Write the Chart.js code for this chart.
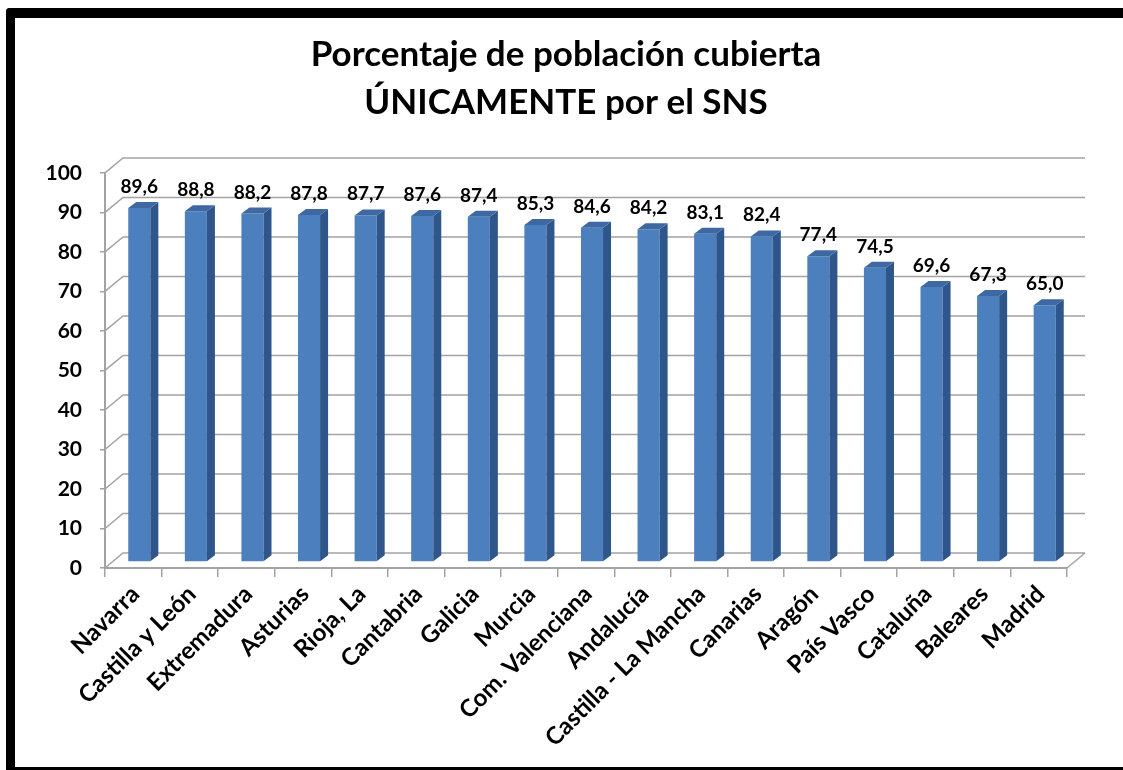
<!DOCTYPE html>
<html>
<head>
<meta charset="utf-8">
<script src="https://cdn.jsdelivr.net/npm/chart.js@4.4.1/dist/chart.umd.min.js"></script>
<style>
    html, body { margin: 0; background: #fff; overflow: hidden; }
    #wrap { position: relative; width: 1123px; height: 770px; overflow: hidden; }
    #frame {
        position: absolute; left: 6px; top: 8px;
        width: 1140px; height: 749px;
        border-top: 10px solid #000;
        border-bottom: 10px solid #000;
        border-left: 9px solid #000;
        border-right: none;
        border-top-left-radius: 4px;
        border-bottom-left-radius: 4px;
    }
    #chart { position: absolute; left: 0; top: 0; }
</style>
</head>
<body>
<div id="wrap">
    <div id="frame"></div>
    <canvas id="chart" width="1123" height="770"></canvas>
</div>
<script>
// Chart data
const titleLines = ['Porcentaje de población cubierta', 'ÚNICAMENTE por el SNS'];
const regions = [
    'Navarra', 'Castilla y León', 'Extremadura', 'Asturias', 'Rioja, La',
    'Cantabria', 'Galicia', 'Murcia', 'Com. Valenciana', 'Andalucía',
    'Castilla - La Mancha', 'Canarias', 'Aragón', 'País Vasco', 'Cataluña',
    'Baleares', 'Madrid'
];
const coverage = [89.6, 88.8, 88.2, 87.8, 87.7, 87.6, 87.4, 85.3, 84.6, 84.2, 83.1, 82.4, 77.4, 74.5, 69.6, 67.3, 65.0];
const yMin = 0;
const yMax = 100;
const yStep = 10;

// 3D look
const wallDepth = { x: 18, y: -15 };   // back wall offset from the front plane
const barShift = { x: 6, y: -6 };     // bars sit a little behind the front axis
const barDepth = { x: 8, y: -6 };     // visible side / top of each column
const gridColor = '#a3a3a3';
const fontFamily = 'Lato, "Open Sans", sans-serif';

function formatValue(v) {
    return v.toFixed(1).replace('.', ',');
}

const wall3d = {
    id: 'wall3d',
    afterLayout(chart) {
        // y labels are clipped to the scale box, let it reach the page edge
        chart.scales.y.left = 0;
    },
    beforeDatasetsDraw(chart) {
        const ctx = chart.ctx;
        const area = chart.chartArea;
        const yScale = chart.scales.y;

        // Back wall gridlines + left wall diagonals
        ctx.save();
        ctx.strokeStyle = gridColor;
        ctx.lineWidth = 1.5;
        yScale.ticks.forEach(t => {
            const py = yScale.getPixelForValue(t.value);
            ctx.beginPath();
            ctx.moveTo(area.left, py);
            ctx.lineTo(area.left + wallDepth.x, py + wallDepth.y);
            ctx.lineTo(area.right + wallDepth.x, py + wallDepth.y);
            ctx.stroke();
        });
        // floor right edge
        const py0 = yScale.getPixelForValue(yMin);
        ctx.beginPath();
        ctx.moveTo(area.right, py0);
        ctx.lineTo(area.right + wallDepth.x, py0 + wallDepth.y);
        ctx.stroke();
        ctx.restore();

        // Bars are drawn by Chart.js, just moved back a bit
        ctx.save();
        ctx.translate(barShift.x, barShift.y);
    },
    afterDatasetsDraw(chart) {
        const ctx = chart.ctx;
        const meta = chart.getDatasetMeta(0);

        meta.data.forEach((bar, i) => {
            const p = bar.getProps(['x', 'y', 'base', 'width'], true);
            const left = p.x - p.width / 2;
            const right = p.x + p.width / 2;

            // side face
            ctx.fillStyle = '#2f568b';
            ctx.beginPath();
            ctx.moveTo(right, p.y);
            ctx.lineTo(right + barDepth.x, p.y + barDepth.y);
            ctx.lineTo(right + barDepth.x, p.base + barDepth.y);
            ctx.lineTo(right, p.base);
            ctx.closePath();
            ctx.fill();

            // top face
            ctx.fillStyle = '#3d68a2';
            ctx.beginPath();
            ctx.moveTo(left, p.y);
            ctx.lineTo(left + barDepth.x, p.y + barDepth.y);
            ctx.lineTo(right + barDepth.x, p.y + barDepth.y);
            ctx.lineTo(right, p.y);
            ctx.closePath();
            ctx.fill();

            // value label
            ctx.fillStyle = '#000';
            ctx.font = 'bold 19px ' + fontFamily;
            ctx.textAlign = 'center';
            ctx.textBaseline = 'alphabetic';
            ctx.fillText(formatValue(coverage[i]), p.x, p.y - 15);
        });

        ctx.restore();
    }
};

function initializeChart() {
    const ctx = document.getElementById('chart').getContext('2d');

    new Chart(ctx, {
        type: 'bar',
        data: {
            labels: regions,
            datasets: [{
                data: coverage,
                backgroundColor: '#4b7fbd',
                borderWidth: 0,
                barPercentage: 0.39,
                categoryPercentage: 1
            }]
        },
        options: {
            responsive: false,
            animation: false,
            layout: {
                padding: { left: 65, right: 56, top: 0, bottom: 0 }
            },
            plugins: {
                legend: { display: false },
                tooltip: { enabled: false },
                title: {
                    display: true,
                    text: titleLines,
                    color: '#000',
                    font: { family: fontFamily, size: 35, weight: 'bold', lineHeight: 1.37 },
                    padding: { top: 31, bottom: 46 }
                }
            },
            scales: {
                x: {
                    afterFit: s => { s.height = 202; },
                    grid: {
                        display: true,
                        drawOnChartArea: false,
                        drawTicks: true,
                        tickLength: 9,
                        color: gridColor,
                        lineWidth: 1.5
                    },
                    border: { display: true, color: gridColor, width: 2 },
                    ticks: {
                        autoSkip: false,
                        maxRotation: 45,
                        minRotation: 45,
                        padding: 3,
                        labelOffset: 2,
                        color: '#000',
                        font: { family: fontFamily, size: 24, weight: 'bold' }
                    }
                },
                y: {
                    min: yMin,
                    max: yMax,
                    afterFit: s => { s.width = 40; },
                    grid: {
                        display: true,
                        drawOnChartArea: false,
                        drawTicks: true,
                        tickLength: 5,
                        color: gridColor,
                        lineWidth: 1.5
                    },
                    border: { display: true, color: gridColor, width: 2 },
                    ticks: {
                        stepSize: yStep,
                        padding: 18,
                        color: '#000',
                        font: { family: fontFamily, size: 21, weight: 'bold' }
                    }
                }
            }
        },
        plugins: [wall3d]
    });
}

document.addEventListener('DOMContentLoaded', initializeChart);
</script>
</body>
</html>
